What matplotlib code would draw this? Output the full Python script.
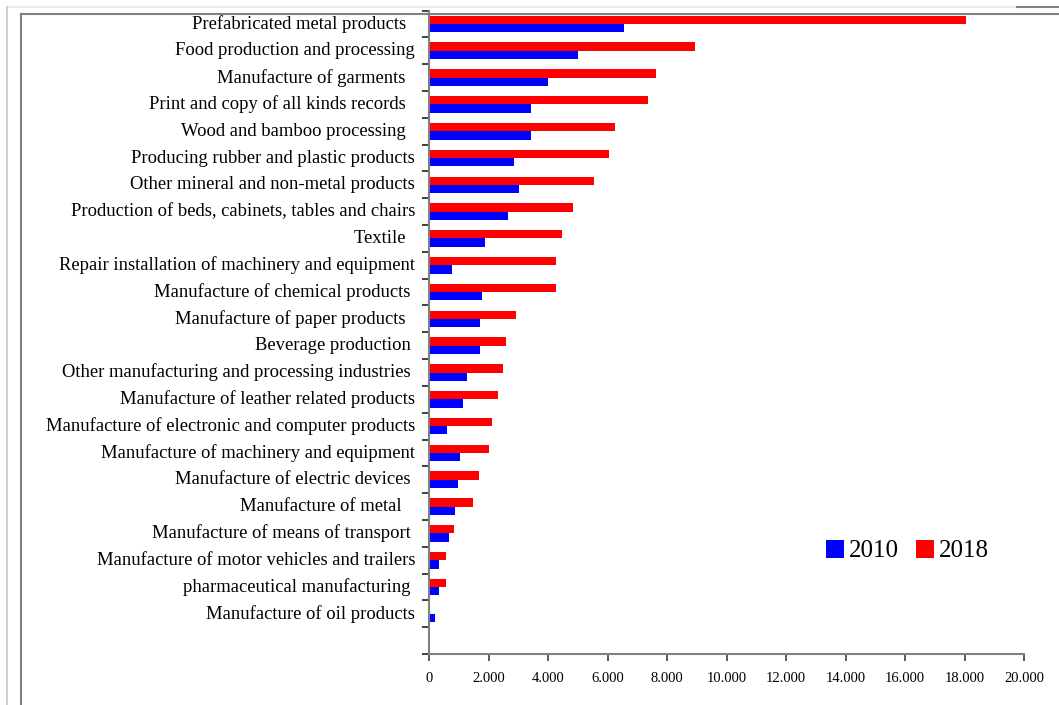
import numpy as np
import matplotlib
matplotlib.use("Agg")
import matplotlib.pyplot as plt
from matplotlib.lines import Line2D
from matplotlib.ticker import FuncFormatter, FixedLocator

plt.rcParams["font.family"] = ["Liberation Serif", "DejaVu Serif"]

# categories, top to bottom
categories = [
    "Prefabricated metal products  ",
    "Food production and processing",
    "Manufacture of garments  ",
    "Print and copy of all kinds records  ",
    "Wood and bamboo processing  ",
    "Producing rubber and plastic products",
    "Other mineral and non-metal products",
    "Production of beds, cabinets, tables and chairs",
    "Textile  ",
    "Repair installation of machinery and equipment",
    "Manufacture of chemical products ",
    "Manufacture of paper products  ",
    "Beverage production ",
    "Other manufacturing and processing industries ",
    "Manufacture of leather related products",
    "Manufacture of electronic and computer products",
    "Manufacture of machinery and equipment",
    "Manufacture of electric devices ",
    "Manufacture of metal   ",
    "Manufacture of means of transport ",
    "Manufacture of motor vehicles and trailers",
    "pharmaceutical manufacturing ",
    "Manufacture of oil products",
]
values_2010 = [6550, 5010, 4000, 3430, 3430, 2860, 3030, 2660, 1880, 770, 1780,
               1710, 1710, 1280, 1140, 610, 1040, 970, 870, 670, 340, 340, 200]
values_2018 = [18050, 8940, 7630, 7360, 6250, 6050, 5550, 4840, 4470, 4270, 4270,
               2920, 2590, 2490, 2320, 2120, 2020, 1680, 1480, 840, 570, 570, 0]

fig = plt.figure(figsize=(10.59, 7.05), dpi=100)
ax = fig.add_axes([0.4051, 0.0723, 0.967 - 0.4051, 0.985 - 0.0723])

y = np.arange(len(categories))
h = 0.31
ax.barh(y - h / 2, values_2018, height=h, color="#ff0000", label="2018", zorder=2)
ax.barh(y + h / 2, values_2010, height=h, color="#0000ff", label="2010", zorder=2)

# 24 category slots, bottom one empty
ax.set_ylim(len(categories) + 0.5, -0.5)
ax.set_xlim(0, 20000)

ax.set_yticks(y)
ax.set_yticklabels(categories, fontsize=13.4, va="bottom")
for t in ax.get_yticklabels():
    t.set_va("center")
ax.yaxis.set_minor_locator(FixedLocator(np.arange(-0.5, len(categories) + 1, 1)))
ax.tick_params(axis="y", which="major", length=0, pad=10)
ax.tick_params(axis="y", which="minor", length=5, width=1.2, color="#202020")

ax.set_xticks(np.arange(0, 20001, 2000))
ax.xaxis.set_major_formatter(FuncFormatter(lambda v, p: f"{int(v):,}".replace(",", ".")))
ax.tick_params(axis="x", length=5, width=1.2, color="#404040", labelsize=10.5, pad=8)

for side in ["top", "right"]:
    ax.spines[side].set_visible(False)
for side in ["left", "bottom"]:
    ax.spines[side].set_color("#808080")
    ax.spines[side].set_linewidth(1.5)

# legend: 2010 first, 2018 second
handles, labels = ax.get_legend_handles_labels()
ax.legend(handles[::-1], labels[::-1], ncol=2, frameon=False, fontsize=18,
          loc="center left", bbox_to_anchor=(0.65, 0.16),
          handlelength=0.72, handleheight=0.72, handletextpad=0.2,
          columnspacing=0.7, borderaxespad=0)

# chart frames
W, H = 1059, 705
def fline(x0, y0, x1, y1, color, lw):
    fig.add_artist(Line2D([x0 / W, x1 / W], [1 - y0 / H, 1 - y1 / H],
                          color=color, lw=lw, transform=fig.transFigure))

fline(7, 7, 1017, 7, "#e8e8e8", 1.2)
fline(7, 7, 7, 705, "#c8c8c8", 1.2)
fline(1017, 7, 1059, 7, "#808080", 1.5)
fline(21, 14, 1059, 14, "#808080", 1.5)
fline(21, 14, 21, 705, "#808080", 1.5)

fig.savefig("out.png", dpi=100)
